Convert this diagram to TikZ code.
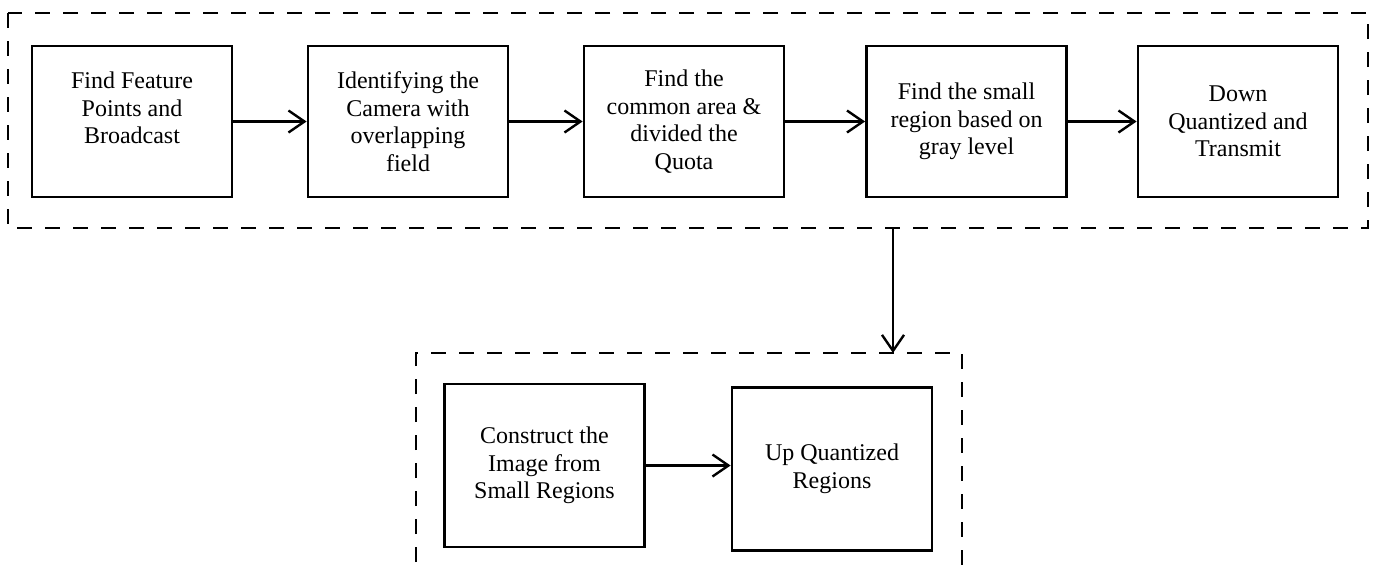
\documentclass[tikz,border=0pt]{standalone}
\usepackage{fontspec}
\setmainfont{Liberation Serif}
\usepackage{tikz}
\usetikzlibrary{positioning, arrows.meta}

\tikzset{
  stage/.style={draw, line width=1.4pt, minimum width=100pt, minimum height=75.5pt,
    align=center, inner sep=0pt, font=\fontsize{12}{13.8}\selectfont},
  tallstage/.style={stage, minimum height=81.5pt},
  group/.style={draw, line width=1.3pt, dash pattern=on 7.5pt off 6.5pt},
}

\begin{document}
\begin{tikzpicture}[x=0.5pt, y=-0.5pt, node distance=138pt, on grid, >={Straight Barb[length=8pt,width=11pt]}]
      \useasboundingbox (0,0) rectangle (1375,564);
      % sending side
      \node[stage] (s1) at (132,121.5) {Find Feature\\Points and\\Broadcast\\\mbox{}};
      \node[stage, right of=s1] (s2) {Identifying the\\Camera with\\overlapping\\field};
      \node[stage, right of=s2] (s3) {Find the\\common area \&\\divided the\\Quota};
      \node[stage, right=141.25pt of s3] (s4) {Find the small\\region based on\\gray level};
      \node[stage, right=135.75pt of s4] (s5) {Down\\Quantized and\\Transmit};
      % receiving side
      \node[tallstage] (r1) at (544.5,465.5) {Construct the\\Image from\\Small Regions};
      \node[tallstage, right=143.75pt of r1, yshift=-1.75pt] (r2) {Up Quantized\\Regions};
      % groups
      \draw[group] (8,13) rectangle (1368,228);
      \draw[group] (416,590) |- (962,353) -- (962,590);
      \coordinate (out) at (893,228);
      \coordinate (in) at (893,353);
      \path[->, line width=1.2pt]
            (s1) edge (s2)
            (s2) edge (s3)
            (s3) edge (s4)
            (s4) edge (s5)
            (r1.east) edge (r1.east -| r2.west)
            (out) edge (in);
\end{tikzpicture}
\end{document}
